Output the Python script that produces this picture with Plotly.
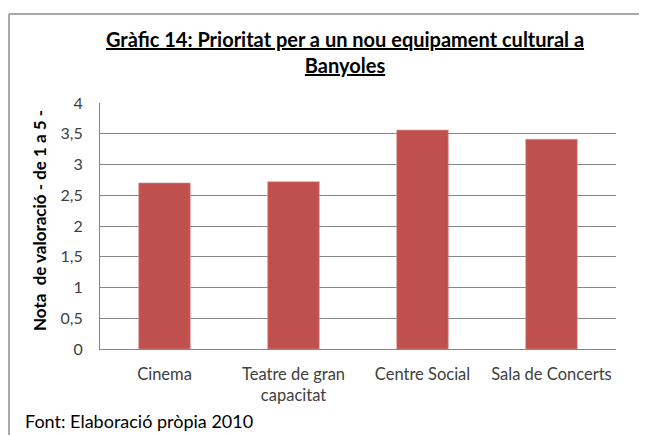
import plotly.graph_objects as go

categories = ["Cinema", "Teatre de gran<br>capacitat", "Centre Social", "Sala de Concerts"]
values = [2.70, 2.72, 3.56, 3.41]
tick_vals = [0, 0.5, 1, 1.5, 2, 2.5, 3, 3.5, 4]
tick_text = ["0", "0,5", "1", "1,5", "2", "2,5", "3", "3,5", "4"]

title_text = "<b><u>Gràfic 14: Prioritat per a un nou equipament cultural a</u></b><br><b><u>Banyoles</u></b>"
y_title = "<b>Nota  de valoració - de 1 a 5 -</b>"
footer = "Font: Elaboració pròpia 2010"

# page body has an 8px margin: work in reference pixel coords, shift by OFF
OFF = 8
W, H = 647 - OFF, 435 - OFF
PL, PR, PT, PB = 100, 616, 103, 349  # plot area in reference pixels
L, R, T, B = PL - OFF, W - (PR - OFF), PT - OFF, H - (PB - OFF)
pw, ph = W - L - R, H - T - B

def px(x):
    return (x - OFF - L) / pw

def py(y):
    return (H - B - (y - OFF)) / ph

FONT = "Lato"

fig = go.Figure(go.Bar(
    x=categories, y=values,
    marker=dict(color="#C0504D", line=dict(color="#D99694", width=0.6)),
    width=0.4,
))

fig.update_layout(
    width=W, height=H,
    margin=dict(l=L, r=R, t=T, b=B, autoexpand=False),
    paper_bgcolor="white", plot_bgcolor="white",
    font=dict(family=FONT, size=16, color="#404040"),
    showlegend=False,
    xaxis=dict(showgrid=False, showline=True, linecolor="#868686", linewidth=1,
               ticks="", ticklabelstandoff=10,
               tickfont=dict(size=16.5, color="#404040"), fixedrange=True),
    yaxis=dict(range=[0, 4], tickvals=tick_vals, ticktext=tick_text,
               showgrid=True, gridcolor="#868686", gridwidth=1,
               showline=True, linecolor="#868686", linewidth=1,
               zeroline=False, ticks="", ticklabelstandoff=13,
               tickfont=dict(size=16, color="#404040"), fixedrange=True),
    annotations=[
        dict(text=title_text, x=px(345), y=py(52), xref="paper", yref="paper",
             showarrow=False, font=dict(size=20, color="black", family=FONT),
             xanchor="center", yanchor="middle", align="center"),
        dict(text=y_title, x=px(39), y=py(221), xref="paper", yref="paper",
             showarrow=False, textangle=-90, font=dict(size=17, color="black", family=FONT),
             xanchor="center", yanchor="middle"),
        dict(text=footer, x=px(23), y=py(421), xref="paper", yref="paper",
             showarrow=False, font=dict(size=18, color="black", family=FONT),
             xanchor="left", yanchor="middle"),
    ],
    shapes=[
        dict(type="line", xref="paper", yref="paper", x0=px(9), x1=px(660), y0=py(14), y1=py(14),
             line=dict(color="#8C8C8C", width=1.5)),
        dict(type="line", xref="paper", yref="paper", x0=px(9), x1=px(9), y0=py(14), y1=py(445),
             line=dict(color="#8C8C8C", width=1.5)),
    ],
)

fig.write_html("out.html")
